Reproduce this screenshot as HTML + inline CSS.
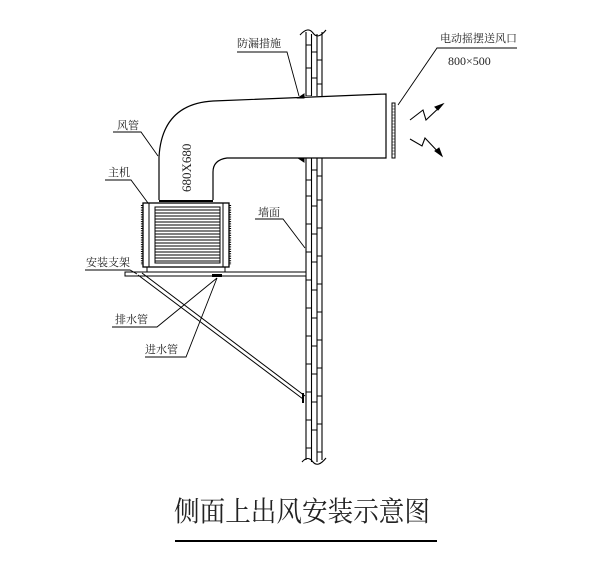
<!DOCTYPE html>
<html><head><meta charset="utf-8"><style>
body{margin:0;background:#fff;}
svg{display:block;}
text{font-family:"Liberation Serif","Noto Serif CJK SC",serif;fill:#222;stroke:none;}
</style></head><body>
<svg width="605" height="576" viewBox="0 0 605 576" xmlns="http://www.w3.org/2000/svg" stroke="#000" fill="none" stroke-width="1">
<!-- wall -->
<g stroke-width="1.1">
<line x1="306" y1="32" x2="306" y2="460"/>
<line x1="311.5" y1="34" x2="311.5" y2="462"/>
<line x1="317" y1="34" x2="317" y2="462"/>
<line x1="322" y1="32" x2="322" y2="460"/>
<path d="M300 35 Q308 26 313 33 Q318 40 326 30"/>
<path d="M302 462 Q308 455 313 462 Q318 468 326 458"/>
</g>
<g stroke-width="1">
<path d="M306 45h5.5M311.5 52h5.5M317 60h5M306 68h5.5M311.5 78h5.5M317 84h5M306 96h5.5M311.5 104h5.5M317 108h5
M306 180h5.5M311.5 170h5.5M317 176h5M306 196h5.5M311.5 206h5.5M317 200h5M306 224h5.5M311.5 234h5.5M317 228h5M306 252h5.5M311.5 262h5.5M317 256h5
M306 280h5.5M311.5 290h5.5M317 284h5M306 308h5.5M311.5 318h5.5M317 312h5M306 336h5.5M311.5 346h5.5M317 340h5M306 364h5.5M311.5 374h5.5M317 368h5
M306 392h5.5M311.5 402h5.5M317 396h5M306 420h5.5M311.5 430h5.5M317 424h5M306 448h5.5M317 452h5"/>
</g>
<!-- duct -->
<rect x="213" y="96" width="173" height="62" fill="#fff" stroke="none"/>
<path d="M159 200 L159 157 Q162 104 213 101 L386 94 L386 158 L227 158 Q213 160 213 172 L213 200" fill="#fff" stroke-width="1.2"/>
<path d="M298 98 l6 -4 v4z M298 158 l6 4 v-4z" fill="#000"/>
<text x="0" y="0" font-size="13" transform="translate(191,192) rotate(-90)">680X680</text>
<!-- unit -->
<rect x="143" y="203" width="86" height="64" stroke-width="1.3"/>
<line x1="149" y1="203" x2="149" y2="267"/><line x1="223" y1="203" x2="223" y2="267"/>
<rect x="155" y="207" width="65" height="56"/>
<path d="M155 210h65M155 213h65M155 216h65M155 219h65M155 222h65M155 225h65M155 228h65M155 231h65M155 234h65M155 237h65M155 240h65M155 243h65M155 246h65M155 249h65M155 252h65M155 255h65M155 258h65M155 261h65" stroke-width="0.9"/>
<path d="M142 205v60M230 205v60" stroke-width="2.2" stroke-dasharray="1 1.3"/>
<path d="M159 201h54" stroke-width="2"/>
<rect x="147" y="267" width="78" height="5"/>
<!-- bracket -->
<rect x="125" y="272" width="181" height="4" fill="#fff"/>
<path d="M138 275 L303 399 M142 273 L305 396" />
<path d="M303 393v10" stroke-width="2"/>
<rect x="212" y="274" width="10" height="3" fill="#000" stroke="none"/>
<!-- outlet grille -->
<rect x="392" y="103" width="3" height="55" fill="#fff" stroke-width="1"/>
<path d="M392 106h3M392 109h3M392 112h3M392 115h3M392 118h3M392 121h3M392 124h3M392 127h3M392 130h3M392 133h3M392 136h3M392 139h3M392 142h3M392 145h3M392 148h3M392 151h3M392 154h3" stroke-width="0.6"/>
<!-- lightning arrows -->
<path d="M410 120 L423 110 L426 120 L443 104" stroke-width="1.1"/>
<path d="M443 104 l-8 3 l3 3z" fill="#000"/>
<path d="M410 139 L422 146 L425 138 L442 156" stroke-width="1.1"/>
<path d="M442 156 l-3 -8 l-4 3z" fill="#000"/>
<!-- leaders -->
<g stroke-width="0.9">
<path d="M237 52 H287 L299 96"/>
<path d="M517 48 H437 L398 105"/>
<path d="M113 132 H141 L158 156"/>
<path d="M105 180 H131 L148 203"/>
<path d="M255 219 H283 L305 248"/>
<path d="M85 270 H130 L137 274"/>
<path d="M112 327 H157 L217 278"/>
<path d="M145 357 H186 L217 278"/>
</g>
<!-- labels -->
<g font-size="11">
<text x="237" y="47">防漏措施</text>
<text x="440" y="42">电动摇摆送风口</text>
<text x="448" y="65" font-size="12" font-family="Liberation Sans, sans-serif">800×500</text>
<text x="117" y="129">风管</text>
<text x="108" y="176">主机</text>
<text x="258" y="216">墙面</text>
<text x="86" y="266">安装支架</text>
<text x="115" y="323">排水管</text>
<text x="145" y="353">进水管</text>
<text x="174" y="521" font-size="28" textLength="256" lengthAdjust="spacingAndGlyphs">侧面上出风安装示意图</text>
</g>
<line x1="175" y1="541" x2="437" y2="541" stroke-width="2"/>
</svg>
</body></html>
